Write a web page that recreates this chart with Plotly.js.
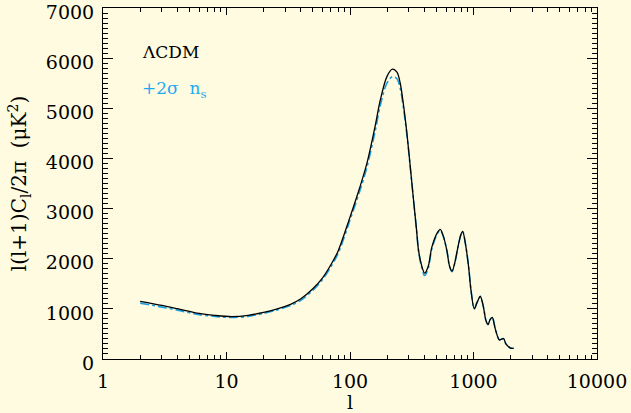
<!DOCTYPE html>
<html>
<head>
<meta charset="utf-8">
<script src="https://cdn.plot.ly/plotly-3.0.1.min.js"></script>
<style>html,body{margin:0;padding:0;background:#fffbe1;}#chart{width:631px;height:413px;}</style>
</head>
<body>
<div id="chart"></div>
<script>
// multipole values
const multipoles = [2,3,4,6,8,11,15,20,25,33,40,50,60,70,80,100,120,137,160,176,199,220,240,255,270,289,310,327,345,359,380,402,430,460,510,538,570,610,640,670,710,748,790,817,860,913,955,1014,1070,1135,1200,1260,1310,1360,1419,1500,1618,1690,1754,1830,1924,2000,2113];
// LambdaCDM spectrum (muK^2)
const lcdm = [1150,1068,1003,908,870,846,870,930,990,1090,1200,1400,1620,1880,2150,2830,3420,3900,4650,5166,5632,5780,5720,5500,5100,4500,3750,3166,2600,2166,1866,1712,1850,2230,2520,2586,2450,2150,1850,1752,1950,2232,2480,2546,2300,1832,1366,1000,1130,1246,1050,770,686,780,832,600,380,395,406,300,246,215,212];
// +2 sigma n_s spectrum (muK^2)
const ns2sigma = [1115,1035,975,885,850,828,850,910,970,1065,1172,1368,1585,1840,2100,2770,3350,3820,4550,5060,5500,5630,5590,5400,5030,4470,3740,3170,2600,2150,1830,1665,1805,2200,2500,2565,2440,2150,1845,1740,1945,2230,2475,2545,2300,1840,1370,1005,1135,1250,1055,775,690,785,836,605,385,398,409,303,249,218,214];
// tick label settings
const yTickStep = 1000;    // labelled y step

const cyan = '#1eaaf0';
const bg = '#fffbe1';
const fontFam = 'DejaVu Serif, serif';

const traces = [
  {x: multipoles, y: ns2sigma, mode: 'lines', line: {color: '#1a9fe0', width: 1.6, dash: 'dashdot', shape: 'spline', smoothing: 0.9}, hoverinfo: 'skip'},
  {x: multipoles, y: lcdm, mode: 'lines', line: {color: '#000000', width: 1.3, shape: 'spline', smoothing: 0.9}, hoverinfo: 'skip'}
];

const axisCommon = {
  showgrid: false, zeroline: false, showline: true, linecolor: '#000', linewidth: 1,
  mirror: 'allticks', ticks: 'inside', tickcolor: '#000', tickwidth: 1,
  ticklabeloverflow: 'allow',
  tickfont: {family: fontFam, size: 19, color: '#000'}
};

const layout = {
  width: 631, height: 413,
  paper_bgcolor: bg, plot_bgcolor: bg,
  margin: {l: 103, r: 34, t: 8, b: 54},
  showlegend: false,
  xaxis: Object.assign({}, axisCommon, {
    type: 'log', range: [0, 4], tickmode: 'linear', tick0: 0, dtick: 1,
    tickformat: 'd', exponentformat: 'none',
    ticklen: 7, ticklabelstandoff: 5,
    minor: {ticks: 'inside', ticklen: 4, tickcolor: '#000', tickwidth: 1, dtick: 'D1', showgrid: false},
    title: {text: 'l', font: {family: fontFam, size: 19, color: '#000'}, standoff: 12}
  }),
  yaxis: Object.assign({}, axisCommon, {
    range: [0, 7000], tickmode: 'linear', tick0: 0, dtick: yTickStep, tickformat: 'd',
    ticklen: 10, ticklabelstandoff: 4, ticklabelshift: 4,
    minor: {ticks: 'inside', ticklen: 5, tickcolor: '#000', tickwidth: 1, dtick: 100, showgrid: false},
    title: {text: 'l(l+1)C<sub>l</sub>/2π&nbsp;&nbsp;(μK<sup>2</sup>)', font: {family: fontFam, size: 20, color: '#000'}, standoff: 13}
  }),
  annotations: [
    {xref: 'paper', yref: 'paper', x: 0.0755, y: 0.876, xanchor: 'left', yanchor: 'middle', showarrow: false,
     text: 'ΛCDM', font: {family: fontFam, size: 17, color: '#000'}},
    {xref: 'paper', yref: 'paper', x: 0.0755, y: 0.767, xanchor: 'left', yanchor: 'middle', showarrow: false,
     text: '+2σ&nbsp;&nbsp;n<sub>s</sub>', font: {family: fontFam, size: 17, color: cyan}}
  ]
};

Plotly.newPlot('chart', traces, layout, {staticPlot: true, displayModeBar: false});
</script>
</body>
</html>
